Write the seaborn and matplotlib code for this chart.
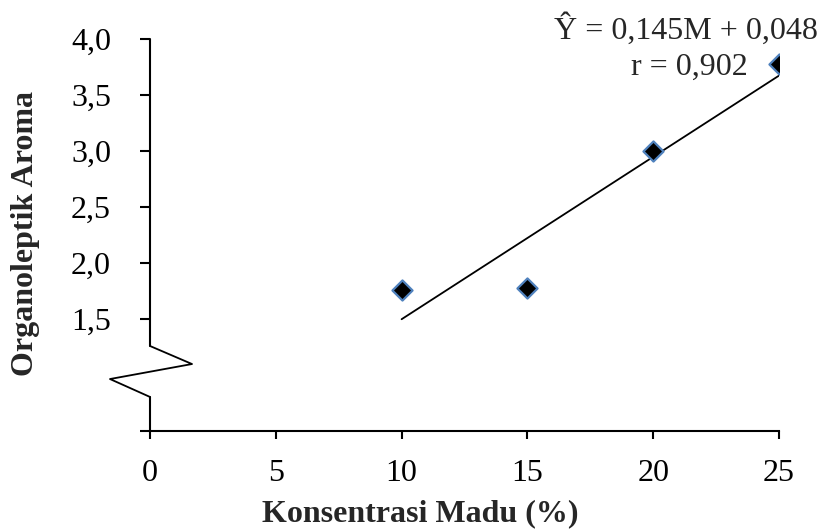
import matplotlib
matplotlib.use("Agg")
import matplotlib.pyplot as plt
import seaborn as sns
import pandas as pd

# ---- data ----
konsentrasi = [10, 15, 20, 25]
aroma = [1.76, 1.78, 3.00, 3.78]
slope = 0.145
intercept = 0.048
x_ticks = [0, 5, 10, 15, 20, 25]
y_ticks = [1.5, 2.0, 2.5, 3.0, 3.5, 4.0]
y_tick_labels = ["1,5", "2,0", "2,5", "3,0", "3,5", "4,0"]
eq_text = "Ŷ = 0,145M + 0,048"
r_text = "r = 0,902"
x_label = "Konsentrasi Madu (%)"
y_label = "Organoleptik Aroma"

sns.set_style("ticks")
plt.rcParams["font.family"] = ["Liberation Serif", "DejaVu Serif"]

FS = 23

fig = plt.figure(figsize=(8.26, 5.30), dpi=100)
ax = fig.add_axes([150 / 826, 99 / 530, 629 / 826, 392 / 530])

df = pd.DataFrame({"M": konsentrasi, "Y": aroma})
fit_x = [min(konsentrasi), max(konsentrasi)]
fit = pd.DataFrame({"M": fit_x, "Y": [slope * v + intercept for v in fit_x]})

sns.lineplot(data=fit, x="M", y="Y", ax=ax, color="black", lw=1.3, zorder=2)
sns.scatterplot(data=df, x="M", y="Y", ax=ax, marker="D", s=105,
                color="black", edgecolor="#4F81BD", linewidth=1.6, zorder=3)

ax.set_xlim(0, 25)
ax.set_ylim(0.5, 4.0)
ax.set_xticks(x_ticks)
ax.set_xticklabels([str(v) for v in x_ticks])
ax.set_yticks([0.5] + y_ticks)
ax.set_yticklabels([""] + y_tick_labels)

for s in ["top", "right", "left"]:
    ax.spines[s].set_visible(False)
ax.spines["bottom"].set_linewidth(1.5)
ax.spines["bottom"].set_color("black")

# y axis with break
brk_lo, brk_hi = 0.804, 1.259
ax.plot([0, 0], [0.5, brk_lo], color="black", lw=1.5, clip_on=False, zorder=4)
ax.plot([0, 0], [brk_hi, 4.0], color="black", lw=1.5, clip_on=False, zorder=4)
ax.plot([0, 1.67, -1.59, 0], [brk_hi, 1.098, 0.964, brk_lo],
        color="black", lw=1.3, clip_on=False, zorder=4)

ax.tick_params(axis="y", direction="out", length=7, width=1.5, color="black",
               labelsize=FS, pad=21, labelcolor="black")
ax.tick_params(axis="x", direction="out", length=6, width=1.5, color="black",
               labelsize=FS, pad=14, labelcolor="black")

ax.set_xlabel(x_label, fontsize=FS, fontweight="bold")
ax.set_ylabel(y_label, fontsize=FS, fontweight="bold")
ax.xaxis.set_label_coords(0.429, -0.175)
ax.yaxis.set_label_coords(-0.175, 0.505)

ax.text(1.062, 1.0, eq_text, transform=ax.transAxes, ha="right", va="baseline",
        fontsize=FS)
ax.text(0.951, 0.908, r_text, transform=ax.transAxes, ha="right", va="baseline",
        fontsize=FS)

fig.savefig("out.png", dpi=100)
